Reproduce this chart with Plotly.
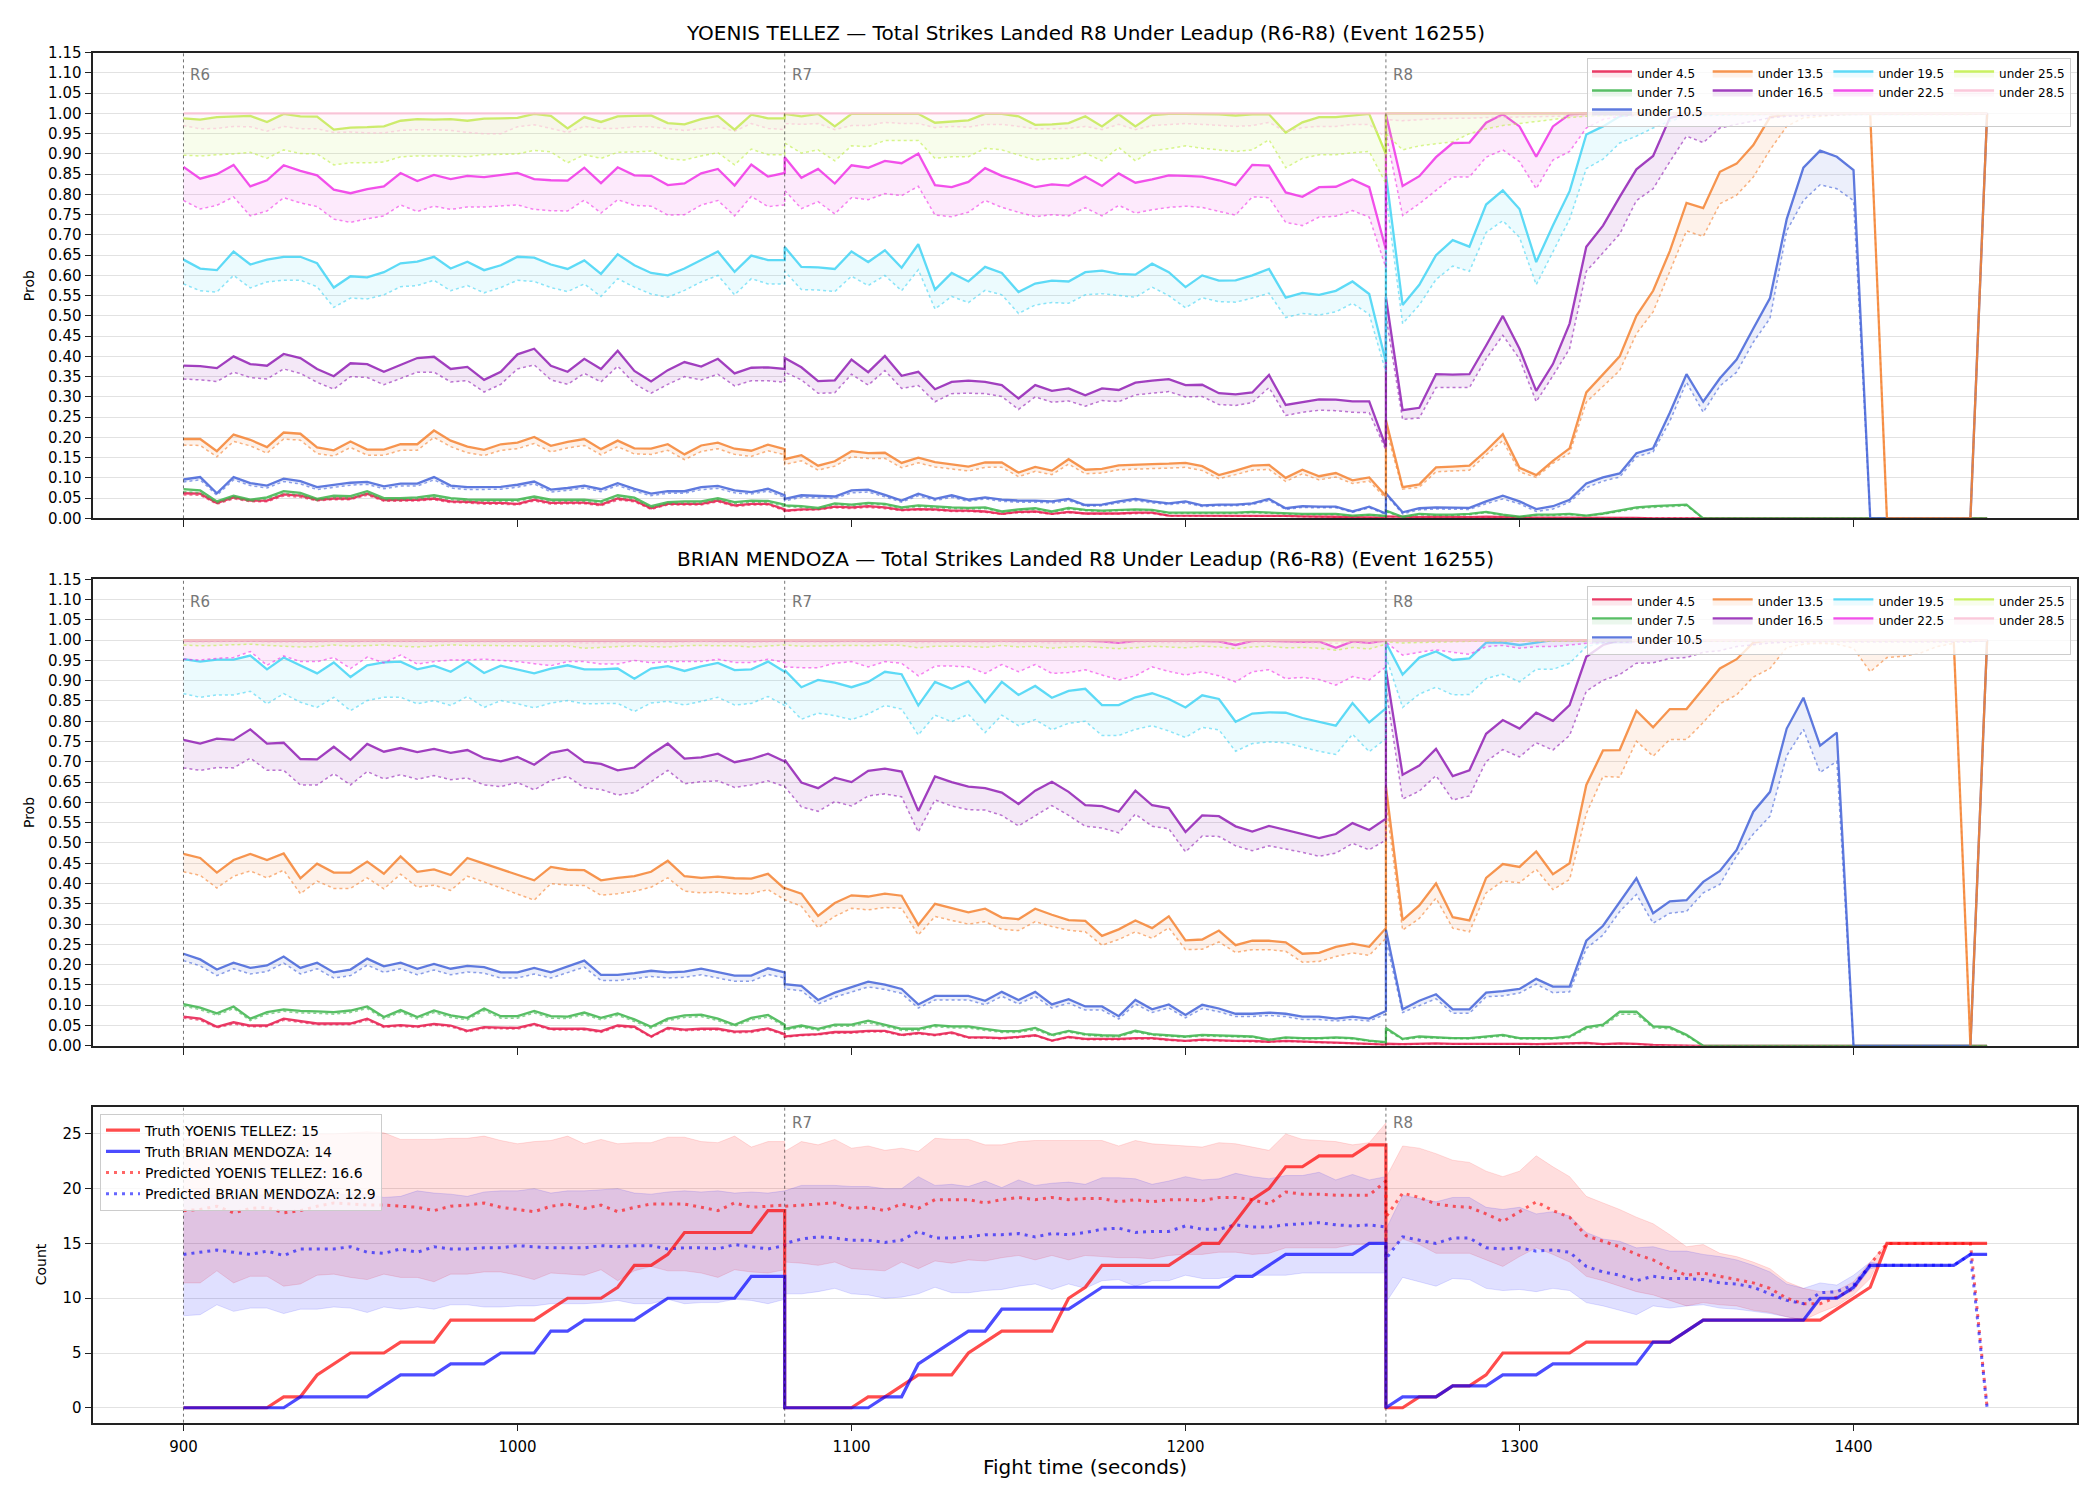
import plotly.graph_objects as go

# ---------------- metadata ----------------
FIGHTER_A = "YOENIS TELLEZ"
FIGHTER_B = "BRIAN MENDOZA"
EVENT_ID = "16255"
ROUND_STARTS = [900, 1080, 1260]
ROUND_NAMES = ["R6", "R7", "R8"]
SAMPLE_STEP = 5
SAMPLES_PER_ROUND = 37
LINE_VALUES = ["4.5", "7.5", "10.5", "13.5", "16.5", "19.5", "22.5", "25.5", "28.5"]
LINE_COLORS = [(230, 25, 75), (60, 180, 75), (67, 99, 216), (245, 130, 49), (145, 30, 180),
               (66, 212, 244), (240, 50, 230), (191, 239, 69), (250, 190, 212)]
LEGEND_COLUMN = [0, 0, 0, 1, 1, 2, 2, 3, 3]
X_TICKS = [900, 1000, 1100, 1200, 1300, 1400]
PROB_TICKS = [0.00, 0.05, 0.10, 0.15, 0.20, 0.25, 0.30, 0.35, 0.40, 0.45, 0.50, 0.55,
              0.60, 0.65, 0.70, 0.75, 0.80, 0.85, 0.90, 0.95, 1.00, 1.05, 1.10, 1.15]
COUNT_TICKS = [0, 5, 10, 15, 20, 25]
TRUTH_FINAL_A = 15
TRUTH_FINAL_B = 14
PRED_FINAL_A = 16.6
PRED_FINAL_B = 12.9

TIME = [s + SAMPLE_STEP * i for s in ROUND_STARTS for i in range(SAMPLES_PER_ROUND)]

# ---------------- fighter A (percent), solid = HI, dotted = LO ----------------
A_U45_HI = [6.2, 6.1, 3.8, 5.2, 4.4, 4.4, 5.9, 5.6, 4.6, 4.9, 4.9, 6.1, 4.5, 4.6, 4.6, 4.9, 4.2, 4.1, 3.8, 3.8, 3.6, 4.6, 3.8, 3.9, 3.9, 3.4, 4.9, 4.4, 2.5, 3.6, 3.6, 3.6, 4.4, 3.2, 3.6, 3.6, 2.2,
            1.9, 2.2, 2.3, 2.9, 2.7, 3.0, 2.7, 2.1, 2.3, 2.2, 1.9, 1.9, 1.7, 1.1, 1.6, 1.7, 1.1, 1.6, 1.2, 1.2, 1.2, 1.4, 1.4, 0.7, 0.7, 0.7, 0.7, 0.7, 0.7, 0.7, 0.6, 0.5, 0.5, 0.4, 0.3, 0.3, 0.2,
            0.5, 0.4, 0.3, 0.4, 0.3, 0.3, 0.4, 0.3, 0.2, 0.2, 0.2, 0.2, 0.1, 0.1, 0.1, 0.1, 0, 0, 0, 0, 0, 0, 0, 0, 0, 0, 0, 0, 0, 0, 0, 0, 0, 0, 0, 0, 0]
A_U45_LO = [5.8, 5.7, 3.5, 4.8, 4.1, 4.1, 5.5, 5.2, 4.3, 4.6, 4.6, 5.7, 4.2, 4.3, 4.3, 4.6, 3.9, 3.8, 3.5, 3.5, 3.3, 4.3, 3.5, 3.6, 3.6, 3.1, 4.5, 4.1, 2.2, 3.3, 3.3, 3.3, 4.1, 2.9, 3.3, 3.3, 1.9,
            1.7, 2.0, 2.1, 2.6, 2.4, 2.7, 2.4, 1.9, 2.1, 2.0, 1.7, 1.7, 1.5, 1.0, 1.4, 1.5, 1.0, 1.4, 1.1, 1.1, 1.1, 1.2, 1.2, 0.6, 0.6, 0.6, 0.6, 0.6, 0.6, 0.6, 0.5, 0.4, 0.4, 0.3, 0.2, 0.2, 0.1,
            0.4, 0.3, 0.2, 0.3, 0.2, 0.2, 0.3, 0.2, 0.1, 0.1, 0.1, 0.1, 0.1, 0.1, 0.1, 0.1, 0, 0, 0, 0, 0, 0, 0, 0, 0, 0, 0, 0, 0, 0, 0, 0, 0, 0, 0, 0, 0]
A_U75_HI = [7.2, 6.9, 4.2, 5.6, 4.6, 5.2, 6.7, 6.3, 4.8, 5.6, 5.5, 6.7, 5.0, 5.0, 5.2, 5.7, 5.0, 4.7, 4.6, 4.6, 4.6, 5.4, 4.6, 4.6, 4.6, 4.2, 5.7, 5.1, 3.0, 4.0, 4.2, 4.2, 5.0, 4.0, 4.4, 4.3, 3.4,
            3.2, 3.0, 2.6, 3.7, 3.4, 3.8, 3.6, 2.7, 3.2, 2.9, 2.7, 2.6, 2.7, 1.7, 2.2, 2.5, 1.7, 2.6, 2.1, 1.9, 2.1, 2.2, 2.1, 1.4, 1.4, 1.4, 1.4, 1.4, 1.6, 1.4, 1.2, 1.1, 1.1, 1.1, 0.7, 0.9, 0.6,
            1.9, 0.4, 1.1, 0.9, 0.9, 1.1, 1.6, 0.9, 0.4, 0.9, 0.9, 1.1, 0.7, 1.2, 1.9, 2.7, 3.0, 3.2, 3.4, 0, 0, 0, 0, 0, 0, 0, 0, 0, 0, 0, 0, 0, 0, 0, 0, 0, 0]
A_U75_LO = [6.6, 6.3, 3.8, 5.1, 4.2, 4.8, 6.2, 5.8, 4.4, 5.1, 5.0, 6.2, 4.6, 4.6, 4.8, 5.2, 4.6, 4.3, 4.2, 4.2, 4.2, 5.0, 4.2, 4.2, 4.2, 3.8, 5.2, 4.7, 2.7, 3.6, 3.8, 3.8, 4.6, 3.6, 4.0, 3.9, 3.0,
            2.9, 2.7, 2.3, 3.4, 3.1, 3.5, 3.3, 2.4, 2.9, 2.6, 2.4, 2.3, 2.4, 1.5, 2.0, 2.2, 1.5, 2.3, 1.9, 1.7, 1.9, 2.0, 1.9, 1.2, 1.2, 1.2, 1.2, 1.2, 1.4, 1.2, 1.0, 0.9, 0.9, 0.9, 0.6, 0.8, 0.5,
            1.6, 0.3, 0.9, 0.7, 0.7, 0.9, 1.4, 0.7, 0.3, 0.7, 0.7, 0.9, 0.6, 1.0, 1.7, 2.4, 2.7, 2.9, 3.1, 0, 0, 0, 0, 0, 0, 0, 0, 0, 0, 0, 0, 0, 0, 0, 0, 0, 0]
A_U105_HI = [9.6, 10.2, 6.2, 10.2, 8.7, 8.1, 9.8, 9.2, 7.7, 8.2, 8.8, 9.0, 7.9, 8.6, 8.6, 10.2, 8.1, 7.7, 7.8, 7.8, 8.3, 9.1, 7.1, 7.5, 8.1, 7.2, 8.7, 7.3, 6.1, 6.7, 6.7, 7.7, 8.0, 6.9, 6.5, 7.3, 5.7,
             4.8, 5.7, 5.5, 5.4, 6.9, 7.1, 5.8, 4.4, 6.1, 4.8, 5.7, 4.6, 5.2, 4.6, 4.4, 4.4, 4.2, 4.8, 3.3, 3.4, 4.2, 4.8, 4.2, 3.7, 4.2, 3.2, 3.4, 3.4, 3.7, 4.8, 2.5, 3.0, 2.9, 2.9, 1.7, 2.9, 1.2,
             6.2, 1.5, 2.5, 2.7, 2.7, 2.6, 4.2, 5.6, 4.2, 2.3, 3.0, 4.6, 8.6, 10.1, 11.1, 16.1, 17.3, 26.1, 35.6, 28.8, 34.6, 39.2, 46.9, 54.4, 73.9, 86.6, 90.8, 89.3, 86.0, 0, 0, 0, 0, 0, 0, 0, 100]
A_U105_LO = [9.0, 9.5, 5.7, 9.5, 8.1, 7.5, 9.1, 8.5, 7.1, 7.6, 8.2, 8.4, 7.3, 8.0, 8.0, 9.5, 7.5, 7.1, 7.2, 7.2, 7.7, 8.5, 6.5, 6.9, 7.5, 6.6, 8.1, 6.7, 5.6, 6.2, 6.2, 7.1, 7.4, 6.3, 6.0, 6.7, 5.2,
             4.3, 5.2, 5.0, 4.9, 6.3, 6.5, 5.3, 4.0, 5.6, 4.4, 5.2, 4.2, 4.8, 4.2, 4.0, 4.0, 3.8, 4.4, 3.0, 3.1, 3.8, 4.4, 3.8, 3.4, 3.8, 2.9, 3.1, 3.1, 3.4, 4.4, 2.2, 2.7, 2.6, 2.6, 1.5, 2.6, 1.0,
             5.8, 1.1, 2.1, 2.3, 2.3, 2.2, 3.6, 4.8, 3.6, 1.7, 2.3, 4.0, 7.6, 9.2, 10.2, 15.2, 16.4, 24.0, 33.6, 26.2, 32.7, 36.1, 43.5, 49.4, 71.0, 78.5, 82.4, 81.4, 78.5, 0, 0, 0, 0, 0, 0, 0, 100]
A_U135_HI = [19.6, 19.6, 16.6, 20.7, 19.4, 17.6, 21.2, 20.9, 17.5, 16.8, 19.0, 17.0, 17.0, 18.3, 18.3, 21.7, 19.2, 17.7, 16.9, 18.3, 18.7, 20.1, 17.9, 18.9, 19.6, 17.1, 19.2, 17.3, 17.2, 18.3, 15.8, 18.0, 18.7, 17.2, 16.7, 18.2, 17.1,
             14.6, 15.6, 13.0, 14.1, 16.6, 16.1, 16.2, 13.7, 15.0, 13.9, 13.3, 12.8, 13.8, 13.8, 11.3, 12.7, 11.8, 14.6, 12.0, 12.2, 13.1, 13.3, 13.4, 13.5, 13.7, 12.9, 10.7, 11.8, 13.0, 13.2, 10.0, 12.0, 10.4, 11.2, 9.4, 10.1, 5.5,
             24.2, 7.7, 8.4, 12.6, 12.8, 13.0, 16.7, 20.8, 12.5, 10.7, 14.2, 17.3, 31.1, 35.5, 40.0, 50.0, 56.2, 66.0, 77.9, 76.6, 85.6, 87.6, 92.2, 99.1, 99.8, 99.9, 100, 100, 100, 100, 0, 0, 0, 0, 0, 0, 100]
A_U135_LO = [18.1, 18.0, 15.2, 19.0, 17.9, 16.1, 19.6, 19.3, 16.0, 15.4, 17.5, 15.6, 15.6, 16.8, 16.8, 20.0, 17.7, 16.2, 15.5, 16.8, 17.2, 18.5, 16.4, 17.4, 18.0, 15.7, 17.7, 15.9, 15.8, 16.8, 14.5, 16.5, 17.2, 15.8, 15.3, 16.7, 15.7,
             13.3, 14.2, 11.9, 12.9, 15.2, 14.8, 14.8, 12.5, 13.7, 12.7, 12.2, 11.7, 12.6, 12.6, 10.3, 11.6, 10.8, 13.4, 11.0, 11.2, 12.0, 12.2, 12.3, 12.4, 12.6, 11.8, 9.8, 10.8, 11.9, 12.1, 9.1, 11.0, 9.5, 10.2, 8.6, 9.2, 4.9,
             22.0, 7.2, 7.7, 11.5, 11.7, 11.9, 15.7, 19.2, 11.5, 10.1, 13.6, 16.1, 28.7, 32.7, 36.5, 45.6, 51.0, 61.0, 71.0, 69.6, 77.7, 79.8, 84.3, 91.0, 96.8, 98.9, 99.3, 99.6, 99.8, 99.8, 0, 0, 0, 0, 0, 0, 100]
A_U165_HI = [37.7, 37.6, 37.1, 40.0, 38.1, 37.7, 40.6, 39.6, 36.9, 35.1, 38.3, 38.1, 36.2, 37.9, 39.6, 39.9, 36.9, 37.4, 34.2, 36.2, 40.5, 41.9, 37.7, 36.2, 39.4, 36.9, 41.4, 36.4, 33.8, 36.6, 38.6, 37.5, 39.4, 35.8, 37.2, 37.3, 36.9,
             39.6, 37.3, 33.9, 34.1, 39.2, 36.1, 40.1, 35.2, 36.2, 31.9, 33.7, 34.0, 33.7, 32.9, 29.6, 32.9, 31.5, 32.1, 30.4, 32.1, 31.7, 33.5, 34.0, 34.4, 32.9, 33.0, 30.9, 30.6, 31.1, 35.4, 28.0, 28.7, 29.4, 29.3, 28.9, 28.9, 17.7,
             54.6, 26.7, 27.3, 35.6, 35.5, 35.6, 42.7, 50.0, 41.9, 31.5, 38.1, 48.1, 67.1, 72.3, 79.4, 86.2, 89.5, 98.9, 99.8, 100, 100, 100, 100, 100, 100, 100, 100, 100, 100, 100, 100, 100, 100, 100, 100, 100, 100]
A_U165_LO = [34.4, 34.2, 33.8, 36.1, 34.8, 34.4, 36.9, 35.8, 33.6, 31.9, 35.0, 34.8, 33.0, 34.6, 36.1, 36.1, 33.7, 34.0, 31.2, 33.1, 36.9, 37.9, 34.2, 33.1, 35.8, 33.7, 37.6, 33.3, 30.9, 33.1, 35.0, 34.2, 35.6, 32.7, 34.0, 34.0, 33.6,
             36.1, 34.2, 30.9, 31.0, 35.6, 32.9, 36.5, 32.1, 32.8, 28.8, 30.8, 30.9, 30.8, 30.1, 26.9, 30.0, 28.7, 29.0, 27.7, 29.1, 28.8, 30.5, 30.9, 31.3, 30.0, 30.1, 28.1, 27.9, 28.6, 32.3, 25.4, 26.2, 26.7, 26.6, 26.2, 26.1, 16.9,
             50.0, 24.4, 24.8, 32.3, 32.3, 32.3, 39.4, 45.2, 39.4, 28.8, 35.2, 41.9, 61.0, 65.6, 70.2, 78.5, 81.4, 88.1, 94.4, 92.8, 96.4, 97.3, 98.1, 98.9, 99.3, 99.5, 99.6, 99.7, 99.8, 99.8, 99.8, 99.8, 99.8, 99.8, 99.8, 99.8, 100]
A_U195_HI = [63.9, 61.7, 61.3, 65.9, 62.7, 63.9, 64.6, 64.6, 63.0, 57.0, 59.8, 59.5, 60.8, 63.0, 63.4, 64.6, 61.7, 63.4, 61.3, 62.5, 64.6, 64.4, 62.7, 61.6, 63.7, 60.4, 65.2, 62.5, 60.6, 60.0, 61.7, 63.9, 65.9, 60.9, 64.9, 63.8, 63.8,
             67.0, 62.1, 62.0, 61.6, 65.9, 63.3, 66.2, 61.9, 67.7, 56.5, 60.6, 58.5, 62.1, 60.6, 55.9, 58.0, 58.7, 58.5, 60.8, 61.2, 60.4, 60.2, 62.9, 60.8, 57.1, 60.0, 58.7, 58.8, 60.0, 61.6, 54.5, 55.7, 55.2, 56.2, 58.5, 55.4, 38.6,
             85.0, 52.7, 57.7, 65.0, 68.7, 67.1, 77.5, 81.0, 76.4, 63.3, 72.3, 80.8, 94.8, 96.8, 99.3, 100, 100, 100, 100, 100, 100, 100, 100, 100, 100, 100, 100, 100, 100, 100, 100, 100, 100, 100, 100, 100, 100]
A_U195_LO = [57.9, 56.2, 55.9, 60.0, 56.9, 58.4, 58.8, 58.8, 57.2, 52.1, 54.4, 54.2, 55.2, 57.2, 57.5, 58.8, 56.2, 57.5, 55.7, 57.0, 58.8, 58.5, 57.0, 56.0, 57.9, 54.8, 59.2, 57.1, 55.4, 54.6, 56.3, 58.4, 60.0, 55.2, 59.2, 57.9, 57.9,
             61.0, 56.5, 56.4, 56.0, 59.8, 57.5, 60.0, 56.2, 61.4, 51.7, 54.8, 53.3, 56.3, 55.2, 50.6, 52.7, 53.3, 53.1, 55.2, 55.5, 55.0, 54.6, 57.1, 55.0, 52.0, 54.5, 53.5, 53.4, 54.4, 55.6, 49.6, 50.6, 50.2, 51.0, 53.1, 50.4, 36.1,
             80.0, 48.1, 52.7, 59.0, 62.3, 61.0, 70.6, 73.5, 69.4, 57.7, 65.6, 73.9, 86.4, 88.7, 92.7, 94.4, 96.4, 98.1, 99.3, 99.5, 99.6, 99.7, 99.7, 99.7, 99.8, 99.8, 99.8, 99.8, 99.8, 99.8, 99.8, 99.8, 99.8, 99.8, 99.8, 99.8, 100]
A_U225_HI = [86.8, 83.9, 85.0, 87.3, 82.0, 83.5, 87.2, 85.8, 84.7, 81.2, 80.3, 81.3, 82.0, 85.3, 83.3, 84.8, 83.8, 84.6, 84.3, 84.8, 85.3, 83.8, 83.5, 83.4, 86.6, 82.8, 86.7, 84.7, 84.6, 82.3, 82.7, 85.2, 86.3, 82.2, 87.4, 84.4, 85.3,
             89.2, 84.1, 86.3, 82.7, 87.2, 86.6, 88.3, 87.7, 90.1, 82.3, 81.8, 83.1, 86.5, 84.6, 83.3, 81.8, 82.5, 82.2, 84.4, 82.1, 85.2, 82.9, 83.7, 84.7, 84.6, 84.4, 83.5, 82.3, 87.3, 87.1, 80.5, 79.4, 81.8, 81.9, 83.7, 81.8, 66.4,
             99.8, 82.1, 84.5, 89.2, 92.7, 92.8, 97.7, 99.8, 96.8, 89.3, 96.8, 99.8, 100, 100, 100, 100, 100, 100, 100, 100, 100, 100, 100, 100, 100, 100, 100, 100, 100, 100, 100, 100, 100, 100, 100, 100, 100]
A_U225_LO = [78.5, 76.4, 77.3, 79.4, 74.7, 75.9, 79.2, 77.9, 77.0, 73.9, 73.1, 74.0, 74.7, 77.4, 75.8, 77.1, 76.3, 76.9, 76.9, 77.1, 77.4, 76.3, 76.0, 75.9, 78.6, 75.4, 78.7, 77.3, 77.1, 74.9, 75.0, 77.4, 78.5, 74.7, 79.5, 77.0, 77.4,
             81.0, 76.5, 78.2, 75.2, 79.2, 78.7, 80.2, 79.7, 82.0, 74.9, 74.5, 75.6, 78.5, 76.8, 75.6, 74.5, 75.0, 74.7, 76.7, 74.7, 77.3, 75.4, 76.2, 76.8, 77.1, 76.8, 75.8, 74.9, 79.4, 79.2, 73.1, 72.3, 74.4, 74.6, 76.0, 74.4, 61.9,
             95.0, 74.8, 77.7, 81.0, 84.3, 84.3, 89.2, 91.0, 88.1, 81.4, 88.5, 90.6, 96.4, 98.5, 99.3, 99.5, 99.6, 99.7, 99.7, 99.8, 99.8, 99.8, 99.8, 99.8, 99.8, 99.8, 99.8, 99.8, 99.8, 99.8, 99.8, 99.8, 99.8, 99.8, 99.8, 99.8, 100]
A_U255_HI = [98.8, 98.5, 99.1, 99.2, 99.4, 97.9, 99.9, 99.3, 99.2, 96.0, 96.5, 96.6, 96.8, 98.2, 98.6, 98.5, 98.6, 98.2, 98.7, 98.8, 98.9, 99.9, 99.4, 96.3, 99.1, 97.9, 99.3, 99.4, 99.5, 97.6, 97.3, 98.6, 99.4, 96.0, 99.7, 98.8, 98.8,
             99.9, 99.3, 99.9, 96.8, 99.9, 99.9, 99.9, 99.9, 99.9, 97.7, 98.0, 98.3, 99.9, 99.9, 99.3, 97.2, 97.3, 97.6, 99.3, 96.8, 99.8, 96.8, 99.6, 99.9, 99.9, 99.9, 99.8, 99.5, 99.8, 99.8, 95.3, 97.8, 99.1, 99.1, 99.5, 99.9, 90.0,
             100, 100, 100, 100, 100, 100, 100, 100, 100, 100, 100, 100, 100, 100, 100, 100, 100, 100, 100, 100, 100, 100, 100, 100, 100, 100, 100, 100, 100, 100, 100, 100, 100, 100, 100, 100, 100]
A_U255_LO = [89.7, 89.5, 89.8, 90.0, 90.4, 88.9, 91.0, 90.1, 90.0, 87.3, 87.8, 87.8, 88.0, 89.3, 89.5, 89.5, 89.5, 89.3, 89.8, 89.9, 90.0, 90.9, 90.5, 87.8, 89.8, 88.9, 90.4, 90.5, 90.7, 88.8, 88.5, 89.5, 90.3, 87.3, 91.2, 89.8, 89.8,
             92.7, 90.2, 91.0, 88.3, 92.0, 91.8, 93.3, 93.3, 93.3, 88.9, 89.3, 89.3, 91.4, 91.0, 89.8, 88.5, 88.8, 88.9, 90.2, 88.3, 91.6, 88.3, 90.8, 91.3, 92.0, 91.4, 91.0, 90.6, 91.0, 93.5, 86.6, 88.9, 89.8, 89.8, 90.3, 90.6, 82.7,
             95.0, 91.0, 92.0, 92.5, 93.0, 95.0, 96.2, 97.0, 97.5, 98.0, 98.5, 99.0, 99.3, 99.5, 99.6, 99.7, 99.8, 99.8, 99.8, 99.8, 99.8, 99.8, 99.8, 99.8, 99.8, 99.8, 99.8, 99.8, 99.8, 99.8, 99.8, 99.8, 99.8, 99.8, 99.8, 99.8, 100]
A_U285_HI = [100, 100, 100, 100, 100, 100, 100, 100, 100, 100, 100, 100, 100, 100, 100, 100, 100, 100, 100, 100, 100, 100, 100, 100, 100, 100, 100, 100, 100, 100, 100, 100, 100, 100, 100, 100, 100,
             100, 100, 100, 100, 100, 100, 100, 100, 100, 100, 100, 100, 100, 100, 100, 100, 100, 100, 100, 100, 100, 100, 100, 100, 100, 100, 100, 100, 100, 100, 100, 100, 100, 100, 100, 100, 100,
             100, 100, 100, 100, 100, 100, 100, 100, 100, 100, 100, 100, 100, 100, 100, 100, 100, 100, 100, 100, 100, 100, 100, 100, 100, 100, 100, 100, 100, 100, 100, 100, 100, 100, 100, 100, 100]
A_U285_LO = [97.0, 96.2, 96.3, 96.8, 96.7, 95.6, 96.8, 96.2, 96.2, 95.3, 95.4, 95.2, 95.2, 95.8, 96.0, 96.0, 95.8, 95.3, 95.0, 95.0, 96.7, 97.2, 96.3, 95.3, 96.8, 96.3, 96.3, 96.7, 96.7, 96.2, 95.8, 96.2, 96.7, 95.6, 97.5, 96.3, 96.0,
             97.5, 97.3, 97.5, 96.0, 97.0, 97.0, 97.8, 97.5, 97.5, 96.5, 96.8, 96.6, 97.3, 97.3, 96.8, 96.2, 96.2, 96.3, 96.8, 96.0, 97.3, 96.0, 97.0, 97.3, 97.5, 97.3, 97.0, 96.8, 97.0, 97.8, 95.5, 96.5, 96.8, 96.8, 97.3, 97.3, 94.0,
             98.5, 98.2, 98.5, 98.7, 98.8, 98.8, 99.0, 99.0, 99.1, 99.2, 99.3, 99.4, 99.4, 99.5, 99.5, 99.5, 99.6, 99.6, 99.6, 99.7, 99.7, 99.7, 99.7, 99.7, 99.7, 99.7, 99.7, 99.7, 99.7, 99.7, 99.7, 99.7, 99.7, 99.7, 99.7, 99.7, 100]

# ---------------- fighter B (percent) ----------------
B_U45_HI = [7.2, 6.7, 4.7, 5.8, 5.0, 5.0, 6.7, 6.1, 5.5, 5.5, 5.5, 6.7, 4.8, 5.1, 4.8, 5.4, 5.0, 3.7, 4.6, 4.5, 4.4, 5.4, 4.2, 4.2, 4.2, 3.6, 5.0, 4.7, 2.3, 4.4, 4.0, 4.2, 4.2, 3.5, 3.6, 4.3, 2.9,
            2.3, 2.7, 2.9, 3.4, 3.4, 3.7, 3.7, 2.7, 3.2, 2.7, 3.3, 2.1, 2.1, 1.9, 2.2, 2.6, 1.3, 2.2, 1.7, 1.7, 1.7, 1.9, 1.9, 1.5, 1.2, 1.5, 1.3, 1.2, 1.2, 1.0, 1.2, 1.0, 0.9, 0.8, 0.7, 0.5, 0.3,
            0.5, 0.4, 0.5, 0.6, 0.5, 0.5, 0.6, 0.6, 0.5, 0.4, 0.5, 0.6, 0.7, 0.4, 0.6, 0.5, 0.2, 0.1, 0, 0, 0, 0, 0, 0, 0, 0, 0, 0, 0, 0, 0, 0, 0, 0, 0, 0, 0]
B_U45_LO = [6.8, 6.3, 4.4, 5.4, 4.7, 4.7, 6.3, 5.7, 5.2, 5.2, 5.2, 6.3, 4.5, 4.8, 4.5, 5.1, 4.7, 3.4, 4.3, 4.2, 4.1, 5.1, 3.9, 3.9, 3.9, 3.3, 4.7, 4.4, 2.1, 4.1, 3.7, 3.9, 3.9, 3.2, 3.3, 4.0, 2.6,
            2.1, 2.5, 2.7, 3.1, 3.1, 3.4, 3.4, 2.5, 2.9, 2.5, 3.0, 1.9, 1.9, 1.7, 2.0, 2.4, 1.2, 2.0, 1.5, 1.5, 1.5, 1.7, 1.7, 1.3, 1.1, 1.3, 1.2, 1.1, 1.1, 0.9, 1.1, 0.9, 0.8, 0.7, 0.6, 0.4, 0.2,
            0.4, 0.3, 0.4, 0.5, 0.4, 0.4, 0.5, 0.5, 0.4, 0.3, 0.4, 0.5, 0.6, 0.3, 0.5, 0.4, 0.1, 0.1, 0, 0, 0, 0, 0, 0, 0, 0, 0, 0, 0, 0, 0, 0, 0, 0, 0, 0, 0]
B_U75_HI = [10.3, 9.4, 8.0, 9.7, 6.7, 8.3, 9.0, 8.6, 8.5, 8.3, 8.7, 9.7, 7.1, 8.8, 7.1, 8.7, 7.5, 6.9, 9.2, 7.3, 7.3, 8.6, 7.3, 7.2, 8.2, 6.9, 8.0, 6.5, 4.7, 6.7, 7.5, 7.7, 6.7, 5.2, 6.9, 7.6, 5.2,
            4.2, 5.0, 4.2, 5.2, 5.2, 6.2, 5.2, 4.2, 4.2, 5.1, 4.8, 4.8, 4.2, 3.6, 3.6, 4.4, 2.7, 3.7, 2.9, 2.6, 2.5, 3.7, 2.9, 2.6, 2.3, 2.7, 2.6, 2.5, 2.3, 1.5, 2.1, 1.9, 1.9, 2.1, 1.9, 1.3, 0.9,
            4.4, 1.7, 2.3, 2.1, 1.9, 1.9, 2.3, 2.7, 1.9, 1.9, 1.9, 2.3, 4.6, 5.2, 8.4, 8.4, 4.8, 4.6, 2.7, 0, 0, 0, 0, 0, 0, 0, 0, 0, 0, 0, 0, 0, 0, 0, 0, 0, 0]
B_U75_LO = [9.8, 8.9, 7.5, 9.2, 6.2, 7.8, 8.5, 8.1, 8.0, 7.8, 8.2, 9.2, 6.6, 8.3, 6.6, 8.2, 7.0, 6.4, 8.7, 6.8, 6.8, 8.1, 6.8, 6.7, 7.7, 6.4, 7.5, 6.0, 4.3, 6.2, 7.0, 7.2, 6.2, 4.8, 6.4, 7.1, 4.8,
            3.8, 4.6, 3.8, 4.8, 4.8, 5.7, 4.8, 3.8, 3.8, 4.7, 4.4, 4.4, 3.8, 3.3, 3.3, 4.0, 2.4, 3.4, 2.6, 2.3, 2.2, 3.4, 2.6, 2.3, 2.1, 2.4, 2.3, 2.2, 2.1, 1.3, 1.9, 1.7, 1.7, 1.9, 1.7, 1.1, 0.8,
            4.0, 1.5, 2.0, 1.9, 1.7, 1.7, 2.0, 2.4, 1.7, 1.7, 1.7, 2.0, 4.2, 4.8, 7.8, 7.8, 4.4, 4.2, 2.4, 0, 0, 0, 0, 0, 0, 0, 0, 0, 0, 0, 0, 0, 0, 0, 0, 0, 0]
B_U105_HI = [22.7, 21.3, 18.8, 20.5, 19.2, 19.8, 22.0, 19.2, 20.5, 18.1, 18.8, 21.5, 19.6, 20.5, 19.0, 20.2, 19.0, 19.7, 19.4, 18.1, 18.1, 19.2, 18.1, 19.6, 21.0, 17.5, 17.5, 17.9, 18.5, 18.1, 18.3, 19.0, 18.1, 17.3, 17.3, 19.1, 18.1,
             15.2, 14.8, 11.3, 13.1, 14.4, 15.8, 15.1, 14.0, 10.2, 12.3, 12.3, 12.3, 11.1, 13.3, 11.3, 13.3, 10.2, 11.5, 9.7, 9.7, 7.3, 11.3, 9.0, 10.2, 7.6, 10.1, 9.2, 7.9, 7.9, 8.2, 7.9, 7.2, 7.2, 6.7, 7.2, 6.7, 8.6,
             28.6, 9.0, 11.1, 12.7, 9.0, 9.0, 13.1, 13.5, 14.0, 16.5, 14.6, 14.6, 25.9, 29.6, 35.6, 41.3, 32.7, 35.6, 35.9, 40.4, 43.1, 48.3, 57.7, 62.6, 78.2, 85.8, 74.0, 77.2, 0, 0, 0, 0, 0, 0, 0, 0, 100]
B_U105_LO = [21.0, 19.7, 17.3, 19.0, 17.7, 18.3, 20.4, 17.7, 19.0, 16.7, 17.3, 19.9, 18.1, 19.0, 17.5, 18.7, 17.5, 18.2, 17.9, 16.7, 16.7, 17.7, 16.7, 18.1, 19.4, 16.1, 16.1, 16.5, 17.1, 16.7, 16.9, 17.5, 16.7, 15.9, 15.9, 17.6, 16.7,
             14.0, 13.6, 10.3, 12.0, 13.2, 14.5, 13.9, 12.9, 9.3, 11.3, 11.3, 11.3, 10.1, 12.2, 10.3, 12.2, 9.3, 10.5, 8.8, 8.8, 6.6, 10.3, 8.2, 9.3, 6.9, 9.2, 8.4, 7.2, 7.2, 7.5, 7.2, 6.5, 6.5, 6.1, 6.5, 6.1, 7.8,
             26.0, 8.2, 10.0, 11.6, 8.0, 8.0, 12.1, 12.3, 13.0, 15.2, 13.1, 13.3, 24.0, 27.3, 33.1, 37.3, 30.2, 32.7, 33.1, 37.7, 39.8, 46.8, 52.2, 56.6, 71.5, 78.0, 67.4, 70.1, 0, 0, 0, 0, 0, 0, 0, 0, 100]
B_U135_HI = [47.3, 46.3, 42.7, 45.8, 47.3, 45.8, 47.4, 41.3, 44.9, 42.7, 42.7, 45.4, 42.4, 46.7, 42.9, 43.5, 42.1, 46.3, 44.9, 43.5, 42.1, 40.8, 44.1, 43.4, 43.3, 40.8, 41.4, 41.8, 42.9, 45.6, 41.8, 41.4, 41.7, 41.3, 41.2, 42.4, 38.7,
             38.9, 37.5, 32.0, 35.2, 37.1, 36.8, 37.5, 37.0, 29.8, 35.0, 33.9, 32.9, 33.8, 31.6, 31.2, 33.8, 32.3, 31.0, 30.8, 27.1, 28.7, 30.9, 29.0, 31.9, 26.0, 26.2, 28.4, 24.8, 25.9, 25.9, 25.5, 22.7, 22.9, 24.4, 25.2, 24.4, 29.0,
             63.9, 31.0, 34.6, 40.0, 31.7, 30.9, 41.4, 44.8, 44.1, 47.9, 42.3, 45.0, 64.3, 72.8, 72.9, 82.6, 78.5, 83.0, 83.0, 88.0, 93.0, 95.3, 99.4, 100, 100, 100, 100, 100, 100, 100, 100, 100, 100, 100, 100, 0, 100]
B_U135_LO = [42.9, 42.0, 38.9, 41.8, 43.1, 41.4, 43.3, 37.5, 40.6, 38.8, 38.8, 41.4, 38.7, 42.3, 39.1, 39.6, 38.3, 41.8, 40.4, 38.9, 37.5, 35.9, 40.0, 39.6, 39.5, 37.1, 37.5, 38.1, 39.1, 41.4, 38.1, 37.7, 37.9, 37.5, 37.5, 38.5, 36.0,
             36.0, 34.4, 29.1, 31.9, 33.9, 33.5, 34.1, 33.9, 27.3, 31.9, 30.9, 30.0, 30.6, 28.7, 28.4, 30.6, 29.4, 28.5, 28.1, 24.8, 26.2, 28.1, 26.5, 29.1, 23.7, 23.8, 25.6, 23.0, 23.7, 23.7, 23.3, 20.6, 20.8, 22.0, 22.9, 22.3, 26.5,
             60.0, 28.5, 31.4, 36.4, 29.0, 28.1, 37.7, 40.6, 40.2, 43.5, 38.5, 41.0, 57.2, 66.4, 66.2, 75.1, 71.4, 75.5, 75.5, 79.7, 84.3, 86.5, 90.9, 93.0, 98.2, 99.0, 99.2, 99.0, 98.0, 92.2, 95.7, 96.0, 96.8, 98.4, 99.2, 0, 100]
B_U165_HI = [75.4, 74.5, 75.7, 75.4, 78.0, 74.5, 74.7, 70.7, 70.6, 73.7, 70.5, 74.4, 72.5, 73.4, 72.4, 73.2, 72.2, 72.9, 70.9, 70.1, 71.2, 69.3, 72.2, 73.0, 70.0, 69.5, 67.9, 68.6, 71.8, 74.5, 70.8, 71.1, 72.0, 69.9, 70.7, 72.0, 70.1,
             70.5, 64.9, 63.5, 66.1, 65.0, 67.8, 68.3, 67.6, 57.9, 66.4, 65.0, 63.9, 63.5, 62.4, 59.6, 62.9, 65.1, 62.6, 59.3, 59.1, 57.7, 62.9, 59.3, 58.6, 52.7, 56.8, 56.6, 54.1, 52.8, 54.2, 53.2, 52.2, 51.2, 52.2, 54.9, 53.2, 56.0,
             92.7, 66.8, 69.1, 73.2, 66.5, 67.9, 76.9, 80.3, 78.2, 82.1, 80.1, 84.0, 95.9, 98.8, 100, 100, 100, 100, 100, 100, 100, 100, 100, 100, 100, 100, 100, 100, 100, 100, 100, 100, 100, 100, 100, 100, 100]
B_U165_LO = [68.5, 67.9, 68.6, 68.5, 70.9, 67.9, 67.9, 64.3, 64.3, 67.1, 64.3, 67.6, 65.8, 66.8, 65.7, 66.6, 65.6, 66.0, 64.3, 63.9, 64.9, 63.1, 65.4, 66.4, 63.6, 63.2, 61.8, 62.4, 65.1, 67.9, 64.6, 65.1, 65.3, 63.7, 64.3, 65.3, 63.9,
             63.9, 58.9, 57.8, 60.2, 59.1, 61.6, 62.1, 61.4, 52.7, 60.6, 59.1, 58.2, 58.1, 56.8, 54.2, 56.8, 59.2, 56.8, 54.1, 53.7, 52.5, 57.1, 54.1, 53.5, 47.8, 51.7, 51.6, 49.3, 48.1, 49.3, 48.5, 47.7, 46.7, 47.5, 49.9, 48.3, 50.7,
             88.0, 60.8, 62.8, 66.6, 60.6, 61.6, 70.1, 73.0, 71.2, 74.7, 72.9, 76.5, 87.4, 90.1, 91.5, 94.3, 94.4, 95.5, 95.7, 97.0, 97.4, 98.4, 98.8, 99.3, 99.5, 99.6, 99.6, 99.6, 99.6, 99.6, 99.6, 99.6, 99.6, 99.6, 99.6, 99.6, 100]
B_U195_HI = [95.3, 94.7, 95.2, 95.2, 96.2, 92.8, 95.7, 93.8, 91.8, 94.5, 90.9, 93.8, 94.5, 94.7, 92.8, 93.7, 92.2, 94.7, 91.9, 93.7, 92.8, 91.8, 93.0, 93.8, 92.8, 92.8, 93.0, 90.5, 93.0, 93.6, 92.4, 93.5, 94.4, 92.6, 92.8, 94.7, 92.2,
             92.6, 88.4, 90.2, 89.5, 88.4, 89.7, 92.2, 91.6, 83.9, 89.7, 88.0, 89.9, 84.7, 89.7, 86.5, 88.7, 85.8, 87.5, 88.0, 84.0, 84.0, 85.9, 86.9, 85.5, 83.4, 86.4, 85.5, 79.9, 81.9, 82.2, 82.1, 80.8, 79.9, 78.9, 84.5, 79.7, 83.2,
             99.4, 91.5, 95.7, 97.2, 95.1, 95.5, 99.4, 99.4, 98.8, 99.4, 100, 100, 100, 100, 100, 100, 100, 100, 100, 100, 100, 100, 100, 100, 100, 100, 100, 100, 100, 100, 100, 100, 100, 100, 100, 100, 100]
B_U195_LO = [86.8, 85.9, 86.5, 86.5, 87.4, 84.3, 86.8, 84.7, 83.4, 85.9, 82.6, 85.1, 85.9, 85.9, 84.3, 85.1, 83.9, 86.1, 83.4, 85.1, 84.3, 83.3, 84.5, 85.1, 84.3, 84.3, 84.4, 82.4, 84.5, 84.9, 84.0, 84.9, 85.9, 84.0, 84.4, 86.1, 83.9,
             84.7, 80.5, 82.0, 81.4, 80.4, 81.8, 83.9, 83.0, 76.6, 81.5, 79.9, 81.7, 77.2, 81.5, 78.9, 80.4, 77.9, 79.5, 80.0, 76.5, 76.5, 78.0, 78.9, 77.6, 76.0, 78.5, 77.9, 72.6, 74.5, 74.9, 74.7, 73.6, 72.6, 71.8, 76.8, 72.5, 75.7,
             96.0, 83.4, 86.7, 88.4, 86.5, 86.6, 90.5, 91.6, 89.7, 92.8, 92.8, 94.3, 98.4, 99.3, 99.5, 99.7, 99.7, 99.7, 99.7, 99.7, 99.7, 99.7, 99.7, 99.7, 99.7, 99.7, 99.7, 99.7, 99.7, 99.7, 99.7, 99.7, 99.7, 99.7, 99.7, 99.7, 100]
B_U225_HI = [99.9, 99.9, 99.9, 99.9, 99.9, 99.9, 99.9, 99.9, 99.9, 99.9, 99.9, 99.9, 99.9, 99.9, 99.9, 99.9, 99.9, 99.9, 99.9, 99.9, 99.9, 99.9, 99.9, 99.9, 99.9, 99.9, 99.9, 99.9, 99.9, 99.9, 99.9, 99.9, 99.9, 99.9, 99.9, 99.9, 99.9,
             99.9, 99.9, 99.9, 99.9, 99.9, 99.9, 99.9, 99.9, 99.9, 99.9, 99.9, 99.9, 99.9, 99.9, 99.9, 99.9, 99.9, 99.9, 99.9, 99.7, 99.3, 99.8, 99.9, 99.9, 99.9, 99.8, 99.7, 98.8, 99.8, 99.8, 99.7, 99.6, 99.7, 98.1, 99.7, 99.3, 99.9,
             100, 100, 100, 100, 100, 100, 100, 100, 100, 100, 100, 100, 100, 100, 100, 100, 100, 100, 100, 100, 100, 100, 100, 100, 100, 100, 100, 100, 100, 100, 100, 100, 100, 100, 100, 100, 100]
B_U225_LO = [95.3, 95.1, 95.5, 95.7, 97.2, 93.8, 96.1, 94.7, 94.7, 95.7, 93.0, 95.8, 94.4, 96.3, 94.1, 94.7, 95.1, 95.1, 95.3, 95.0, 94.7, 94.2, 93.7, 94.7, 94.7, 94.1, 94.1, 95.0, 94.4, 94.7, 94.7, 94.7, 95.3, 94.5, 94.5, 95.3, 94.5,
             93.4, 93.2, 93.2, 94.3, 94.7, 93.4, 94.7, 94.3, 91.2, 93.6, 93.6, 93.4, 91.8, 94.0, 92.2, 94.0, 91.8, 92.0, 92.7, 91.4, 90.2, 91.2, 93.4, 92.3, 91.4, 92.2, 91.2, 89.7, 92.2, 92.7, 90.5, 90.8, 90.3, 88.9, 91.0, 90.2, 93.4,
             99.5, 96.3, 97.0, 97.6, 97.0, 96.5, 98.4, 98.7, 98.0, 98.4, 98.4, 98.8, 99.2, 99.4, 99.5, 99.6, 99.7, 99.7, 99.7, 99.7, 99.7, 99.7, 99.7, 99.7, 99.7, 99.7, 99.7, 99.7, 99.7, 99.7, 99.7, 99.7, 99.7, 99.7, 99.7, 99.7, 100]
B_U255_HI = [100, 100, 100, 100, 100, 100, 100, 100, 100, 100, 100, 100, 100, 100, 100, 100, 100, 100, 100, 100, 100, 100, 100, 100, 100, 100, 100, 100, 100, 100, 100, 100, 100, 100, 100, 100, 100,
             100, 100, 100, 100, 100, 100, 100, 100, 100, 100, 100, 100, 100, 100, 100, 100, 100, 100, 100, 100, 100, 100, 100, 100, 100, 100, 100, 100, 100, 100, 100, 100, 100, 100, 100, 100, 100,
             100, 100, 100, 100, 100, 100, 100, 100, 100, 100, 100, 100, 100, 100, 100, 100, 100, 100, 100, 100, 100, 100, 100, 100, 100, 100, 100, 100, 100, 100, 100, 100, 100, 100, 100, 100, 100]
B_U255_LO = [98.8, 98.6, 98.7, 98.9, 99.0, 98.7, 98.5, 98.3, 98.4, 98.8, 98.5, 98.6, 98.8, 98.5, 98.3, 98.6, 98.8, 98.7, 98.7, 98.6, 98.6, 98.5, 98.5, 98.6, 98.0, 98.2, 98.5, 98.6, 98.4, 98.3, 98.6, 98.7, 98.6, 98.6, 98.3, 98.6, 98.8,
             98.8, 98.5, 98.6, 98.6, 98.7, 98.6, 98.8, 98.7, 98.1, 98.5, 98.5, 98.5, 98.2, 98.7, 98.3, 98.5, 98.0, 98.3, 98.4, 98.1, 97.9, 98.1, 98.5, 98.3, 98.1, 98.5, 98.3, 97.9, 98.3, 98.5, 98.1, 98.2, 98.0, 97.5, 98.2, 97.8, 99.0,
             99.6, 99.3, 99.4, 99.5, 99.7, 99.7, 99.7, 99.7, 99.7, 99.7, 99.7, 99.7, 99.7, 99.7, 99.7, 99.7, 99.7, 99.7, 99.7, 99.7, 99.7, 99.7, 99.7, 99.7, 99.7, 99.7, 99.7, 99.7, 99.7, 99.7, 99.7, 99.7, 99.7, 99.7, 99.7, 99.7, 100]
B_U285_HI = [100, 100, 100, 100, 100, 100, 100, 100, 100, 100, 100, 100, 100, 100, 100, 100, 100, 100, 100, 100, 100, 100, 100, 100, 100, 100, 100, 100, 100, 100, 100, 100, 100, 100, 100, 100, 100,
             100, 100, 100, 100, 100, 100, 100, 100, 100, 100, 100, 100, 100, 100, 100, 100, 100, 100, 100, 100, 100, 100, 100, 100, 100, 100, 100, 100, 100, 100, 100, 100, 100, 100, 100, 100, 100,
             100, 100, 100, 100, 100, 100, 100, 100, 100, 100, 100, 100, 100, 100, 100, 100, 100, 100, 100, 100, 100, 100, 100, 100, 100, 100, 100, 100, 100, 100, 100, 100, 100, 100, 100, 100, 100]
B_U285_LO = [99.6, 99.5, 99.6, 99.6, 99.7, 99.5, 99.5, 99.4, 99.5, 99.6, 99.5, 99.6, 99.6, 99.5, 99.5, 99.6, 99.6, 99.6, 99.6, 99.5, 99.5, 99.5, 99.5, 99.5, 99.3, 99.4, 99.5, 99.5, 99.5, 99.4, 99.5, 99.6, 99.5, 99.5, 99.4, 99.5, 99.6,
             99.6, 99.5, 99.5, 99.5, 99.6, 99.5, 99.6, 99.6, 99.4, 99.5, 99.5, 99.5, 99.4, 99.6, 99.4, 99.5, 99.3, 99.4, 99.5, 99.4, 99.3, 99.4, 99.5, 99.4, 99.4, 99.5, 99.4, 99.3, 99.4, 99.5, 99.4, 99.4, 99.3, 99.2, 99.4, 99.3, 99.6,
             99.8, 99.7, 99.7, 99.8, 99.8, 99.8, 99.8, 99.8, 99.8, 99.8, 99.8, 99.8, 99.8, 99.8, 99.8, 99.8, 99.8, 99.8, 99.8, 99.8, 99.8, 99.8, 99.8, 99.8, 99.8, 99.8, 99.8, 99.8, 99.8, 99.8, 99.8, 99.8, 99.8, 99.8, 99.8, 99.8, 100]

# ---------------- counts panel ----------------
TRUTH_A = [0, 0, 0, 0, 0, 0, 1, 1, 3, 4, 5, 5, 5, 6, 6, 6, 8, 8, 8, 8, 8, 8, 9, 10, 10, 10, 11, 13, 13, 14, 16, 16, 16, 16, 16, 18, 18,
           0, 0, 0, 0, 0, 1, 1, 2, 3, 3, 3, 5, 6, 7, 7, 7, 7, 10, 11, 13, 13, 13, 13, 13, 14, 15, 15, 17, 19, 20, 22, 22, 23, 23, 23, 24, 24,
           0, 0, 1, 1, 2, 2, 3, 5, 5, 5, 5, 5, 6, 6, 6, 6, 6, 6, 7, 8, 8, 8, 8, 8, 8, 8, 8, 9, 10, 11, 15, 15, 15, 15, 15, 15, 15]
TRUTH_B = [0, 0, 0, 0, 0, 0, 0, 1, 1, 1, 1, 1, 2, 3, 3, 3, 4, 4, 4, 5, 5, 5, 7, 7, 8, 8, 8, 8, 9, 10, 10, 10, 10, 10, 12, 12, 12,
           0, 0, 0, 0, 0, 0, 1, 1, 4, 5, 6, 7, 7, 9, 9, 9, 9, 9, 10, 11, 11, 11, 11, 11, 11, 11, 11, 12, 12, 13, 14, 14, 14, 14, 14, 15, 15,
           0, 1, 1, 1, 2, 2, 2, 3, 3, 3, 4, 4, 4, 4, 4, 4, 6, 6, 7, 8, 8, 8, 8, 8, 8, 8, 10, 10, 11, 13, 13, 13, 13, 13, 13, 14, 14]
PRED_A = [18.0, 18.1, 18.4, 17.8, 18.2, 18.3, 17.8, 18.0, 18.4, 18.7, 18.6, 18.5, 18.5, 18.4, 18.3, 18.0, 18.4, 18.5, 18.7, 18.3, 18.1, 17.9, 18.4, 18.6, 18.2, 18.5, 17.9, 18.3, 18.6, 18.6, 18.6, 18.3, 18.0, 18.7, 18.3, 18.4, 18.5,
          18.4, 18.5, 18.6, 18.7, 18.2, 18.3, 18.0, 18.6, 18.2, 19.0, 19.0, 19.0, 18.7, 19.0, 19.2, 19.0, 19.2, 19.0, 19.1, 19.1, 18.8, 19.0, 18.8, 19.0, 19.0, 18.9, 19.2, 19.2, 19.0, 18.6, 19.7, 19.5, 19.5, 19.4, 19.4, 19.4, 20.7,
          17.4, 19.6, 19.2, 18.6, 18.4, 18.3, 17.7, 17.0, 17.9, 18.8, 18.0, 17.4, 15.7, 15.2, 14.7, 14.0, 13.5, 12.7, 12.1, 12.3, 12.0, 11.7, 11.4, 10.9, 10.0, 9.5, 9.5, 10.1, 10.9, 13.1, 15.0, 15.0, 15.0, 15.0, 15.0, 15.0, 0]
PRED_B = [14.0, 14.2, 14.4, 14.2, 14.0, 14.3, 13.9, 14.5, 14.5, 14.5, 14.7, 14.2, 14.1, 14.5, 14.2, 14.7, 14.5, 14.5, 14.6, 14.6, 14.8, 14.7, 14.6, 14.6, 14.6, 14.8, 14.7, 14.8, 14.8, 14.5, 14.6, 14.6, 14.5, 14.9, 14.7, 14.5, 14.8,
          15.0, 15.4, 15.6, 15.5, 15.3, 15.3, 15.1, 15.3, 16.1, 15.5, 15.5, 15.6, 15.8, 15.8, 15.9, 15.6, 15.9, 15.8, 16.0, 16.3, 16.4, 16.0, 16.1, 16.1, 16.6, 16.3, 16.3, 16.7, 16.5, 16.5, 16.7, 16.8, 16.9, 16.7, 16.6, 16.7, 16.5,
          13.6, 15.6, 15.3, 15.0, 15.5, 15.5, 14.6, 14.5, 14.6, 14.3, 14.4, 14.2, 12.9, 12.4, 12.1, 11.6, 12.0, 11.8, 11.8, 11.7, 11.4, 11.3, 11.0, 10.4, 9.8, 9.5, 10.5, 10.6, 11.2, 13.0, 13.0, 13.0, 13.0, 13.0, 13.0, 14.0, 0]
BAND_A_HI = [24.5, 24.6, 24.9, 24.9, 25.0, 25.0, 24.8, 25.1, 25.0, 25.0, 25.1, 25.2, 25.1, 24.5, 24.5, 24.5, 24.6, 24.6, 24.8, 24.4, 24.1, 24.3, 24.4, 24.8, 24.1, 24.5, 24.1, 24.2, 24.2, 24.7, 24.7, 24.3, 24.2, 24.8, 23.8, 24.3, 24.3,
             23.4, 24.3, 24.0, 24.5, 23.7, 23.9, 23.5, 23.7, 23.4, 24.6, 24.5, 24.5, 24.0, 24.0, 24.3, 24.4, 24.4, 24.4, 24.4, 24.4, 23.9, 24.4, 24.1, 24.0, 23.9, 23.8, 24.2, 24.1, 23.8, 23.5, 25.0, 24.5, 24.4, 24.3, 24.0, 24.2, 26.0,
             21.0, 23.9, 23.7, 23.2, 22.6, 22.4, 21.6, 21.1, 21.6, 23.0, 22.0, 21.1, 19.3, 18.7, 18.1, 17.4, 16.8, 15.8, 14.7, 14.9, 14.1, 13.8, 13.3, 12.7, 11.5, 10.9, 10.6, 10.7, 11.5, 13.3, 15.0, 15.0, 15.0, 15.0, 15.0, 15.0, 15.0]
BAND_A_LO = [11.4, 11.4, 12.5, 11.4, 12.0, 12.0, 11.1, 11.3, 12.1, 12.2, 11.9, 11.7, 12.2, 11.9, 11.9, 11.5, 12.2, 12.2, 12.4, 12.4, 12.1, 11.7, 12.3, 12.2, 12.1, 12.6, 11.6, 12.5, 12.9, 12.5, 12.5, 12.3, 11.9, 12.6, 12.4, 12.3, 12.6,
             13.3, 13.2, 13.0, 13.3, 12.7, 12.6, 12.5, 13.3, 12.7, 13.4, 13.2, 13.5, 13.4, 13.7, 13.9, 13.5, 13.9, 13.5, 13.9, 13.8, 13.7, 13.7, 13.6, 13.9, 14.0, 14.0, 14.2, 14.2, 14.0, 14.1, 14.6, 14.6, 14.6, 14.6, 14.9, 14.9, 15.2,
             14.0, 15.4, 14.9, 14.1, 14.1, 14.1, 13.5, 12.9, 13.8, 14.6, 14.0, 13.3, 12.0, 11.6, 11.1, 10.6, 10.3, 9.8, 9.3, 9.6, 9.4, 9.3, 8.9, 8.7, 8.3, 8.0, 8.7, 9.3, 10.3, 11.8, 15.0, 15.0, 15.0, 15.0, 15.0, 15.0, 15.0]
BAND_B_HI = [19.0, 19.2, 19.5, 19.0, 19.3, 19.5, 19.2, 19.6, 19.7, 19.5, 19.5, 19.5, 19.2, 19.3, 19.8, 19.6, 19.5, 19.3, 19.7, 19.8, 19.8, 20.0, 19.6, 19.8, 19.8, 19.9, 20.0, 19.6, 19.5, 19.7, 19.8, 19.7, 19.8, 19.6, 19.7, 19.6, 19.8,
             19.8, 20.3, 20.3, 20.3, 20.2, 20.2, 20.0, 20.0, 21.1, 20.3, 20.4, 20.2, 20.7, 20.1, 20.8, 20.3, 20.5, 20.6, 20.4, 21.0, 21.0, 20.9, 20.4, 20.7, 21.1, 20.8, 20.9, 21.4, 21.1, 20.9, 21.2, 21.2, 21.5, 20.8, 21.3, 20.8, 21.1,
             16.3, 19.4, 19.1, 18.8, 19.2, 19.2, 18.3, 18.1, 18.3, 17.7, 17.9, 17.5, 16.0, 15.4, 15.2, 14.6, 14.7, 14.3, 14.3, 14.0, 13.8, 13.5, 13.0, 12.4, 11.3, 10.9, 11.4, 11.2, 12.1, 13.3, 13.0, 13.0, 13.0, 13.0, 13.0, 14.0, 14.0]
BAND_B_LO = [8.4, 8.5, 9.4, 8.8, 9.1, 9.1, 8.6, 9.0, 9.0, 9.2, 9.1, 8.7, 9.2, 9.0, 9.2, 9.0, 9.4, 9.4, 9.2, 9.2, 9.3, 9.3, 9.5, 9.5, 9.5, 9.6, 9.8, 9.5, 9.5, 9.9, 9.5, 9.6, 9.6, 9.9, 9.8, 9.5, 9.9,
             10.4, 10.4, 10.6, 10.9, 10.4, 10.3, 10.0, 10.1, 10.4, 11.0, 10.5, 10.5, 10.7, 10.8, 11.1, 11.3, 10.8, 11.3, 10.9, 11.6, 11.7, 11.1, 11.6, 11.6, 12.1, 11.8, 11.8, 12.0, 12.1, 12.1, 12.1, 12.3, 12.3, 12.3, 12.3, 12.3, 12.3,
             9.6, 11.9, 11.5, 11.1, 11.8, 11.7, 10.9, 10.7, 10.8, 10.6, 10.9, 10.7, 9.6, 9.3, 8.9, 8.5, 9.3, 9.1, 9.3, 9.4, 9.1, 9.0, 8.8, 8.6, 8.3, 8.0, 10.0, 10.0, 10.7, 12.7, 13.0, 13.0, 13.0, 13.0, 13.0, 14.0, 14.0]

A_HI = [A_U45_HI, A_U75_HI, A_U105_HI, A_U135_HI, A_U165_HI, A_U195_HI, A_U225_HI, A_U255_HI, A_U285_HI]
A_LO = [A_U45_LO, A_U75_LO, A_U105_LO, A_U135_LO, A_U165_LO, A_U195_LO, A_U225_LO, A_U255_LO, A_U285_LO]
B_HI = [B_U45_HI, B_U75_HI, B_U105_HI, B_U135_HI, B_U165_HI, B_U195_HI, B_U225_HI, B_U255_HI, B_U285_HI]
B_LO = [B_U45_LO, B_U75_LO, B_U105_LO, B_U135_LO, B_U165_LO, B_U195_LO, B_U225_LO, B_U255_LO, B_U285_LO]

for _name, _arr in list(globals().items()):
    if isinstance(_arr, list) and _name.startswith(("A_U", "B_U", "TRUTH_", "PRED_", "BAND_")) \
            and len(_arr) != len(TIME):
        raise ValueError(f"{_name} has {len(_arr)} values, expected {len(TIME)}")

# ---------------- figure ----------------
FONT = "DejaVu Sans"
FIG_W = 2100
FIG_H = 1500
# the captured page maps a layout row y to 7.92 + 0.9894 * y; place items by their target rows
ROW_OFFSET = 7.92
ROW_SCALE = 0.9894


def py(t):
    """paper y for a target pixel row of the captured picture"""
    return 1 - ((t - ROW_OFFSET) / ROW_SCALE) / FIG_H


def rgba(c, a):
    return f"rgba({c[0]},{c[1]},{c[2]},{a})"


fig = go.Figure()

for xa, ya, lg, his, los in [("x", "y", "legend", A_HI, A_LO), ("x2", "y2", "legend2", B_HI, B_LO)]:
    for i, lv in enumerate(LINE_VALUES):
        c = LINE_COLORS[i]
        fig.add_trace(go.Scatter(
            x=TIME, y=[v / 100 for v in los[i]], xaxis=xa, yaxis=ya, mode="lines",
            line=dict(color=rgba(c, 0.6), width=1.5, dash="dot"),
            showlegend=False, hoverinfo="skip"))
        fig.add_trace(go.Scatter(
            x=TIME, y=[v / 100 for v in his[i]], xaxis=xa, yaxis=ya, mode="lines",
            line=dict(color=rgba(c, 0.85), width=2.3),
            fill="tonexty", fillcolor=rgba(c, 0.1),
            name=f"under {lv}", legend=lg, legendgroup=f"{lg}-col{LEGEND_COLUMN[i]}"))

# count panel: bands
fig.add_trace(go.Scatter(x=TIME, y=BAND_A_LO, xaxis="x3", yaxis="y3", mode="lines",
                         line=dict(color="rgba(255,0,0,0.12)", width=1), showlegend=False, hoverinfo="skip"))
fig.add_trace(go.Scatter(x=TIME, y=BAND_A_HI, xaxis="x3", yaxis="y3", mode="lines",
                         line=dict(color="rgba(255,0,0,0.12)", width=1), fill="tonexty",
                         fillcolor="rgba(255,0,0,0.13)", showlegend=False, hoverinfo="skip"))
fig.add_trace(go.Scatter(x=TIME, y=BAND_B_LO, xaxis="x3", yaxis="y3", mode="lines",
                         line=dict(color="rgba(0,0,255,0.12)", width=1), showlegend=False, hoverinfo="skip"))
fig.add_trace(go.Scatter(x=TIME, y=BAND_B_HI, xaxis="x3", yaxis="y3", mode="lines",
                         line=dict(color="rgba(0,0,255,0.12)", width=1), fill="tonexty",
                         fillcolor="rgba(0,0,255,0.12)", showlegend=False, hoverinfo="skip"))
fig.add_trace(go.Scatter(x=TIME, y=PRED_A, xaxis="x3", yaxis="y3", mode="lines",
                         line=dict(color="rgba(255,0,0,0.6)", width=3, dash="3px,5px"),
                         name=f"Predicted {FIGHTER_A}: {PRED_FINAL_A}", legend="legend3", legendrank=3))
fig.add_trace(go.Scatter(x=TIME, y=PRED_B, xaxis="x3", yaxis="y3", mode="lines",
                         line=dict(color="rgba(0,0,255,0.6)", width=3, dash="3px,5px"),
                         name=f"Predicted {FIGHTER_B}: {PRED_FINAL_B}", legend="legend3", legendrank=4))
fig.add_trace(go.Scatter(x=TIME, y=TRUTH_A, xaxis="x3", yaxis="y3", mode="lines",
                         line=dict(color="rgba(255,0,0,0.7)", width=3.2),
                         name=f"Truth {FIGHTER_A}: {TRUTH_FINAL_A}", legend="legend3", legendrank=1))
fig.add_trace(go.Scatter(x=TIME, y=TRUTH_B, xaxis="x3", yaxis="y3", mode="lines",
                         line=dict(color="rgba(0,0,255,0.7)", width=3.2),
                         name=f"Truth {FIGHTER_B}: {TRUTH_FINAL_B}", legend="legend3", legendrank=2))

# round markers
shapes = []
annotations = []
for xr, yr in [("x", "y"), ("x2", "y2"), ("x3", "y3")]:
    for rs in ROUND_STARTS:
        shapes.append(dict(type="line", xref=xr, yref=f"{yr} domain", x0=rs, x1=rs, y0=0, y1=1,
                           line=dict(color="rgba(0,0,0,0.55)", width=1, dash="dot"), layer="above"))
for xr, yr, ylab, names in [("x", "y", 1.095, ROUND_NAMES), ("x2", "y2", 1.095, ROUND_NAMES),
                            ("x3", "y3", 26.0, ROUND_NAMES[1:])]:
    for rs, nm in zip(ROUND_STARTS[-len(names):], names):
        annotations.append(dict(text=nm, xref=xr, yref=yr, x=rs + 1.5, y=ylab, xanchor="left",
                                yanchor="middle", showarrow=False, font=dict(size=15, color="#777777", family=FONT)))

X_DOMAIN = [93.3 / FIG_W, 2077.3 / FIG_W]
PLOT_CENTER = (X_DOMAIN[0] + X_DOMAIN[1]) / 2
annotations += [
    dict(text=f"{FIGHTER_A} — Total Strikes Landed R8 Under Leadup (R6-R8) (Event {EVENT_ID})",
         xref="paper", yref="paper", x=PLOT_CENTER, y=py(31.5), xanchor="center", yanchor="middle",
         showarrow=False, font=dict(size=20, color="#000", family=FONT)),
    dict(text=f"{FIGHTER_B} — Total Strikes Landed R8 Under Leadup (R6-R8) (Event {EVENT_ID})",
         xref="paper", yref="paper", x=PLOT_CENTER, y=py(558.5), xanchor="center", yanchor="middle",
         showarrow=False, font=dict(size=20, color="#000", family=FONT)),
    dict(text="Prob", xref="paper", yref="paper", x=28.5 / FIG_W, y=py(285), textangle=-90,
         xanchor="center", yanchor="middle", showarrow=False, font=dict(size=14, color="#000", family=FONT)),
    dict(text="Prob", xref="paper", yref="paper", x=28.5 / FIG_W, y=py(812.6), textangle=-90,
         xanchor="center", yanchor="middle", showarrow=False, font=dict(size=14, color="#000", family=FONT)),
    dict(text="Count", xref="paper", yref="paper", x=41 / FIG_W, y=py(1265), textangle=-90,
         xanchor="center", yanchor="middle", showarrow=False, font=dict(size=14, color="#000", family=FONT)),
    dict(text="Fight time (seconds)", xref="paper", yref="paper", x=PLOT_CENTER, y=py(1468),
         xanchor="center", yanchor="middle", showarrow=False, font=dict(size=20, color="#000", family=FONT)),
]

axis_line = dict(showline=True, linecolor="#222", linewidth=1.6, mirror=True, zeroline=False,
                 ticks="outside", ticklen=7, tickwidth=1.4, tickcolor="#222",
                 tickfont=dict(size=15, color="#000", family=FONT))
x_common = dict(range=[873, 1467], domain=X_DOMAIN, tickvals=X_TICKS, showgrid=False,
                ticklabelstandoff=3, **axis_line)
prob_y = dict(range=[0, 1.15], tickvals=PROB_TICKS, tickformat=".2f", showgrid=True,
              gridcolor="#e2e2e2", gridwidth=1, **axis_line)

legend_common = dict(bgcolor="rgba(255,255,255,0.8)", bordercolor="#cccccc", borderwidth=1,
                     font=dict(size=12, color="#000", family=FONT), tracegroupgap=0,
                     traceorder="grouped", itemwidth=40)

fig.update_layout(
    width=FIG_W, height=FIG_H, autosize=False,
    margin=dict(l=0, r=0, t=0, b=0),
    paper_bgcolor="white", plot_bgcolor="white",
    font=dict(family=FONT, color="#000"),
    xaxis=dict(anchor="y", showticklabels=False, **x_common),
    xaxis2=dict(anchor="y2", showticklabels=False, matches="x", **x_common),
    xaxis3=dict(anchor="y3", showticklabels=True, matches="x", **x_common),
    yaxis=dict(anchor="x", domain=[py(518), py(51.7)], **prob_y),
    yaxis2=dict(anchor="x2", domain=[py(1046.2), py(579)], **prob_y),
    yaxis3=dict(anchor="x3", domain=[py(1423.6), py(1107)], range=[-1.36, 27.5],
                tickvals=COUNT_TICKS, showgrid=True, gridcolor="#e2e2e2", gridwidth=1, **axis_line),
    legend=dict(x=2071 / FIG_W, xanchor="right", y=py(57), yanchor="top", orientation="h", **legend_common),
    legend2=dict(x=2071 / FIG_W, xanchor="right", y=py(585.7), yanchor="top", orientation="h", **legend_common),
    legend3=dict(x=100 / FIG_W, xanchor="left", y=py(1114), yanchor="top", orientation="v",
                 traceorder="normal", itemwidth=34,
                 bgcolor="rgba(255,255,255,0.8)", bordercolor="#cccccc", borderwidth=1,
                 font=dict(size=14, color="#000", family=FONT)),
    shapes=shapes,
    annotations=annotations,
    showlegend=True,
)

fig.write_html("out.html")
